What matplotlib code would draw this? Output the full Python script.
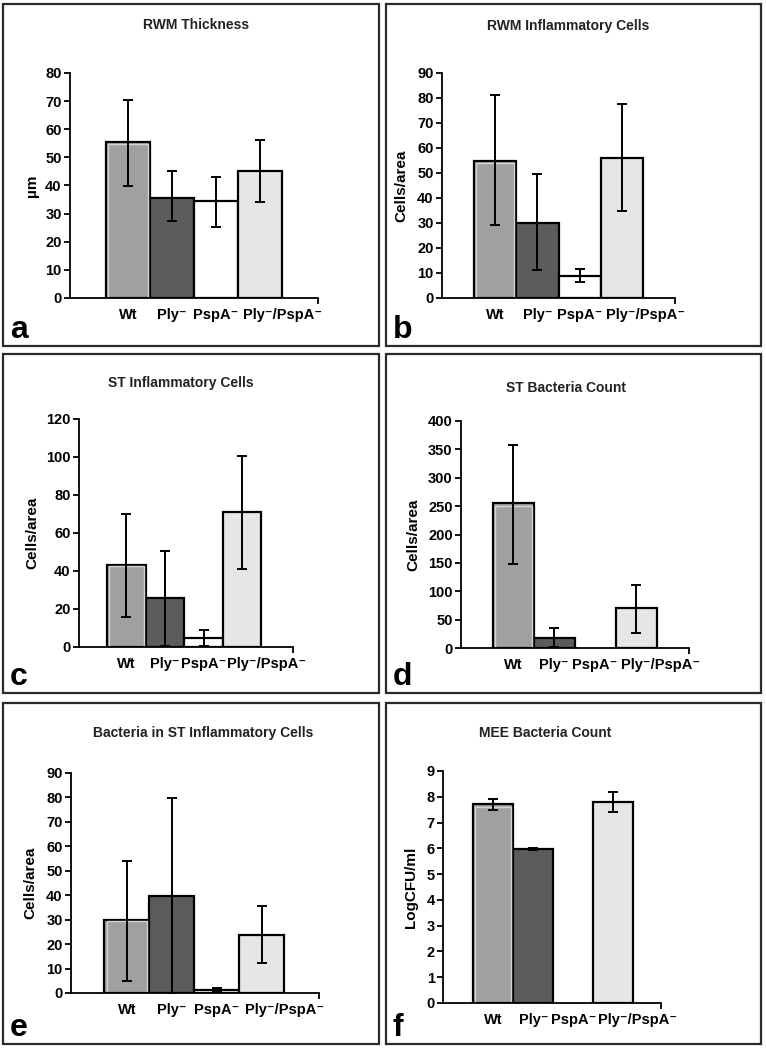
import matplotlib
matplotlib.use("Agg")
import matplotlib.pyplot as plt
from matplotlib.patches import Rectangle
from matplotlib.transforms import blended_transform_factory

plt.rcParams["font.family"] = ["Liberation Sans", "DejaVu Sans"]
plt.rcParams["font.weight"] = "bold"

# groups on the x axis
groups = ["Wt", "Ply\u207b", "PspA\u207b", "Ply\u207b/PspA\u207b"]
bar_colors = ["#a0a0a0", "#5c5c5c", "#ffffff", "#e6e6e6"]

# panel titles, y labels, letters
titles = ["RWM Thickness", "RWM Inflammatory Cells", "ST Inflammatory Cells",
          "ST Bacteria Count", "Bacteria in ST Inflammatory Cells", "MEE Bacteria Count"]
ylabels = ["\u00b5m", "Cells/area", "Cells/area", "Cells/area", "Cells/area", "LogCFU/ml"]
letters = ["a", "b", "c", "d", "e", "f"]
ymax = [80, 90, 120, 400, 90, 9]
ystep = [10, 10, 20, 50, 10, 1]

# means, lower and upper end of the error bars
a_mean = [55.5, 35.5, 34.4, 45.0]
a_low = [39.7, 27.4, 25.2, 34.1]
a_high = [70.3, 45.1, 43.0, 56.0]

b_mean = [54.8, 30.1, 8.9, 55.9]
b_low = [29.1, 11.3, 6.4, 34.9]
b_high = [81.1, 49.7, 11.7, 77.7]

c_mean = [43.1, 25.9, 4.9, 71.3]
c_low = [15.8, 0.4, 0.4, 41.0]
c_high = [70.0, 50.5, 8.8, 100.6]

d_mean = [254.7, 18.2, 0, 70.6]
d_low = [148.8, 1.8, 0, 26.5]
d_high = [357.6, 35.9, 0, 110.6]

e_mean = [29.7, 39.5, 1.1, 23.6]
e_low = [4.8, 0.0, 0.3, 12.3]
e_high = [54.1, 79.8, 1.9, 35.7]

f_mean = [7.71, 5.96, 0, 7.81]
f_low = [7.49, 5.93, 0, 7.42]
f_high = [7.91, 6.01, 0, 8.17]

means = [a_mean, b_mean, c_mean, d_mean, e_mean, f_mean]
lows = [a_low, b_low, c_low, d_low, e_low, f_low]
highs = [a_high, b_high, c_high, d_high, e_high, f_high]

W, H = 766, 1050
fig = plt.figure(figsize=(W / 100, H / 100), dpi=100)

# panel frames in pixels (x0, y0, x1, y1)
frames = [(3, 4, 379, 346), (386, 4, 761, 346),
          (3, 354, 379, 693), (386, 354, 761, 693),
          (3, 703, 379, 1044), (386, 703, 761, 1044)]
# axes boxes in pixels (left, right, y of zero, y of top)
boxes = [(70, 318, 298, 73), (442, 675, 298, 73),
         (79, 293, 647, 419), (461, 689, 648, 421),
         (71, 319, 993, 773), (443, 661, 1003, 771)]
xlims = [(-1.32, 4.32), (-1.27, 4.27), (-1.23, 4.32),
         (-1.27, 4.29), (-1.24, 4.27), (-1.26, 4.19)]
ylabel_x = [32, 401, 32, 413, 30, 411]
title_pos = [(196, 25), (568, 26), (181, 383), (566, 388), (203, 733), (545, 733)]

for i in range(6):
    x0, y0, x1, y1 = frames[i]
    fig.patches.append(Rectangle((x0 / W, 1 - y1 / H), (x1 - x0) / W, (y1 - y0) / H,
                                 transform=fig.transFigure, fill=False,
                                 edgecolor="#2a2a2a", linewidth=1.6))

    l, r, yz, yt = boxes[i]
    ax = fig.add_axes([l / W, 1 - yz / H, (r - l) / W, (yz - yt) / H])
    ax.set_facecolor("none")
    m = means[i]
    x = list(range(4))
    show = [k for k in x if m[k] > 0]
    ax.bar([x[k] for k in show], [m[k] for k in show], width=1.0,
           color=[bar_colors[k] for k in show], edgecolor="black", linewidth=1.6, zorder=2)
    # light inner rim on the Wt bar, like the scanned figure
    ax.bar(x[0], m[0] * 0.985, width=0.9, color="none", edgecolor="#d4d4d4",
           linewidth=1.0, zorder=2.5)
    ax.errorbar([x[k] for k in show], [m[k] for k in show],
                yerr=[[m[k] - lows[i][k] for k in show], [highs[i][k] - m[k] for k in show]],
                fmt="none", ecolor="black", elinewidth=1.4, capsize=3.5, capthick=1.4, zorder=3)

    ax.set_xlim(*xlims[i])
    ax.set_ylim(0, ymax[i])
    ax.set_yticks([v * ystep[i] for v in range(int(ymax[i] / ystep[i]) + 1)])
    ax.set_xticks([])
    ax.set_xticks([xlims[i][1]], minor=True)
    ax.tick_params(axis="x", which="minor", length=4, width=1.3, labelbottom=False)
    ax.tick_params(axis="y", length=4, width=1.3, direction="out", pad=2, labelsize=10.5)
    for lab in ax.get_yticklabels():
        lab.set_fontweight("bold")
    ax.spines["top"].set_visible(False)
    ax.spines["right"].set_visible(False)
    ax.spines["left"].set_linewidth(1.3)
    ax.spines["bottom"].set_linewidth(1.3)
    ax.spines["bottom"].set_zorder(4)

    # group names under the bars, the last one starts at its bar's left edge
    tr = blended_transform_factory(ax.transData, ax.transAxes)
    lab_y = -17 / (yz - yt)
    for k in range(3):
        ax.text(x[k], lab_y, groups[k], transform=tr, ha="center", va="center",
                fontsize=10.5, fontweight="bold")
    ax.text(x[3] - 0.38, lab_y, groups[3], transform=tr, ha="left", va="center",
            fontsize=10.5, fontweight="bold")

    # text around the plot
    fig.text(title_pos[i][0] / W, 1 - title_pos[i][1] / H, titles[i],
             ha="center", va="center", fontsize=10, fontweight="bold", color="#222222")
    fig.text(ylabel_x[i] / W, 1 - (yz + yt) / 2 / H, ylabels[i], rotation=90,
             ha="center", va="center", fontsize=11, fontweight="bold")
    fig.text((x0 + 7) / W, 1 - (y1 - 8) / H, letters[i],
             ha="left", va="baseline", fontsize=23, fontweight="bold")

fig.savefig("out.png", dpi=100)
